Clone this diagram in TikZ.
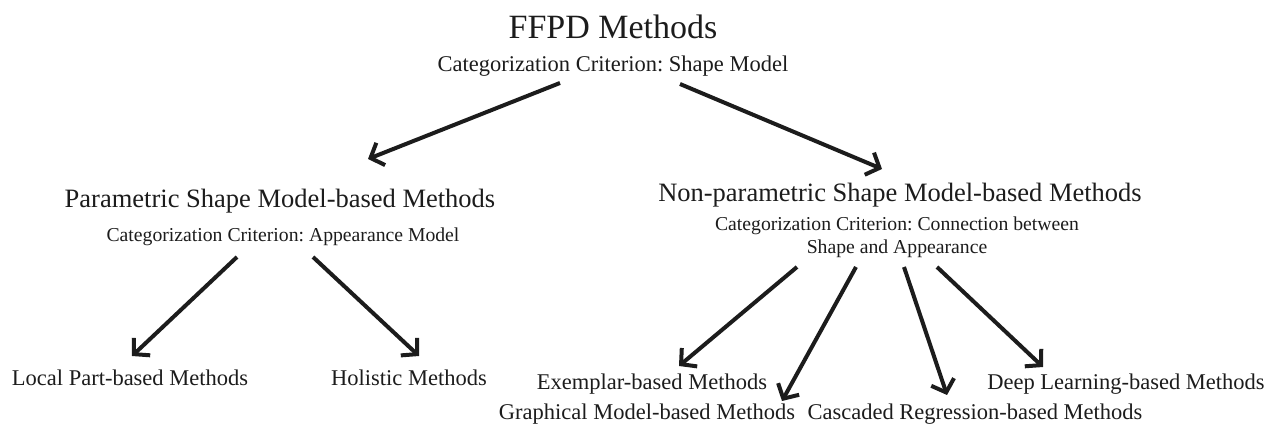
\documentclass[tikz,border=0pt]{standalone}
\usepackage{fontspec}
\setmainfont{Liberation Serif}
\usetikzlibrary{arrows.meta}
\definecolor{ink}{HTML}{1C1C1C}
\frenchspacing
\begin{document}
\begin{tikzpicture}[x=1pt,y=-1pt,
  lbl/.style={anchor=base,inner sep=0pt,text=ink},
  rootlbl/.style={lbl,font=\fontsize{34}{40}\selectfont},
  midlbl/.style={lbl,font=\fontsize{26.5}{31}\selectfont},
  critlbl/.style={lbl,font=\fontsize{19.7}{23}\selectfont},
  topcrit/.style={lbl,font=\fontsize{22.5}{27}\selectfont},
  leaflbl/.style={lbl,font=\fontsize{22.5}{27}\selectfont},
  arr/.style={line width=4pt, draw=ink, -{Straight Barb[length=11pt,width=24pt]}}
]
\useasboundingbox (0,0) rectangle (1270,427);

% level 0
\node[rootlbl] (root) at (613,39) {FFPD Methods};
\node[topcrit] (rootcrit) at (613,72) {Categorization Criterion: Shape Model};

% level 1
\node[midlbl] (param) at (280,208) {Parametric Shape Model-based Methods};
\node[critlbl] (paramcrit) at (283,242) {Categorization Criterion: Appearance Model};
\node[midlbl] (nonparam) at (900,202) {Non-parametric Shape Model-based Methods};
\node[critlbl,anchor=north,align=center] (nonparamcrit) at (897,216.5)
  {Categorization Criterion: Connection between\\Shape and Appearance};

% leaves
\node[leaflbl] (local) at (130,386) {Local Part-based Methods};
\node[leaflbl] (holistic) at (409,386) {Holistic Methods};
\node[leaflbl] (exemplar) at (652,390) {Exemplar-based Methods};
\node[leaflbl] (graphical) at (647,420) {Graphical Model-based Methods};
\node[leaflbl] (cascaded) at (975,420) {Cascaded Regression-based Methods};
\node[leaflbl] (deep) at (1126,390) {Deep Learning-based Methods};

% connector end points
\coordinate (r1) at (560,83);  \coordinate (p1) at (368,159);
\coordinate (r2) at (680,84);  \coordinate (n1) at (882,169);
\coordinate (pa) at (237,257); \coordinate (la) at (132,356);
\coordinate (pb) at (313,257); \coordinate (ha) at (419,356);
\coordinate (na) at (797,267); \coordinate (ea) at (679,366);
\coordinate (nb) at (856,267); \coordinate (ga) at (782,401);
\coordinate (nc) at (904,267); \coordinate (ca) at (947,395);
\coordinate (nd) at (937,267); \coordinate (da) at (1043,367);

\draw[arr] (r1) -- (p1);
\draw[arr] (r2) -- (n1);
\draw[arr] (pa) -- (la);
\draw[arr] (pb) -- (ha);
\draw[arr] (na) -- (ea);
\draw[arr] (nb) -- (ga);
\draw[arr] (nc) -- (ca);
\draw[arr] (nd) -- (da);
\end{tikzpicture}
\end{document}
